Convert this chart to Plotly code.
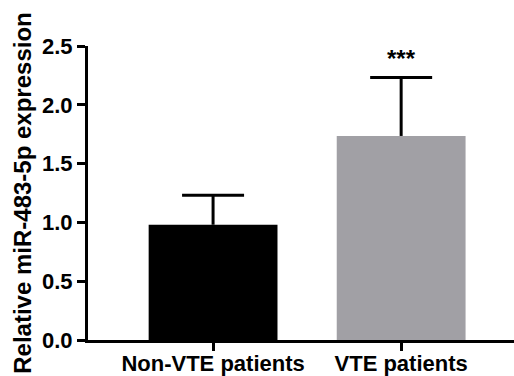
import plotly.graph_objects as go

categories = ["Non-VTE patients", "VTE patients"]
means = [0.98, 1.735]
sem_upper = [0.25, 0.497]
bar_colors = ["#000000", "#a1a0a5"]
y_ticks = [0.0, 0.5, 1.0, 1.5, 2.0, 2.5]
y_tick_labels = ["0.0", "0.5", "1.0", "1.5", "2.0", "2.5"]
significance = ["", "***"]

FONT = "Liberation Sans, Arial, sans-serif"
tops = [m + e for m, e in zip(means, sem_upper)]

fig = go.Figure()
fig.add_trace(go.Bar(
    x=categories,
    y=means,
    marker=dict(color=bar_colors, line=dict(width=0)),
    hoverinfo="skip",
))
# error stem (no crossbars)
fig.add_trace(go.Scatter(
    x=categories, y=means, mode="markers",
    marker=dict(size=1, opacity=0), hoverinfo="skip",
    error_y=dict(type="data", symmetric=False, array=sem_upper,
                 arrayminus=[0, 0], color="#000000", thickness=3, width=0),
))
# error cap
fig.add_trace(go.Scatter(
    x=categories, y=tops, mode="markers",
    marker=dict(size=1, opacity=0), hoverinfo="skip",
    error_y=dict(type="data", symmetric=True, array=[0, 0],
                 color="#000000", thickness=3, width=31),
))

for cat, t, s in zip(categories, tops, significance):
    if s:
        fig.add_annotation(x=cat, y=t, text="<b>" + s + "</b>", showarrow=False,
                           yanchor="bottom", yshift=4,
                           font=dict(family=FONT, size=24, color="#000000"))

fig.update_layout(
    width=514, height=376,
    margin=dict(l=88, r=0, t=46, b=36),
    paper_bgcolor="white", plot_bgcolor="white",
    bargap=0.315,
    showlegend=False,
    font=dict(family=FONT, size=22, color="#000000"),
)
fig.update_xaxes(
    range=[-0.665, 1.6], automargin=False,
    showline=True, linecolor="#000000", linewidth=3,
    ticks="outside", ticklen=8, tickwidth=2.5, tickcolor="#000000",
    ticklabelstandoff=-6,
    tickfont=dict(family=FONT, size=22, color="#000000", weight="bold"),
    showgrid=False, zeroline=False,
)
fig.update_yaxes(
    range=[0, 2.5], automargin=False,
    tickvals=y_ticks, ticktext=y_tick_labels,
    showline=True, linecolor="#000000", linewidth=3,
    ticks="outside", ticklen=8, tickwidth=2.5, tickcolor="#000000",
    tickfont=dict(family=FONT, size=22, color="#000000", weight="bold"),
    showgrid=False, zeroline=False,
    title=dict(text="<b>Relative miR-483-5p expression</b>",
               font=dict(family=FONT, size=24, color="#000000"), standoff=4),
)

fig.write_html("out.html", config={"displayModeBar": False},
               post_script="document.body.style.margin='0';document.body.style.overflow='hidden';")
